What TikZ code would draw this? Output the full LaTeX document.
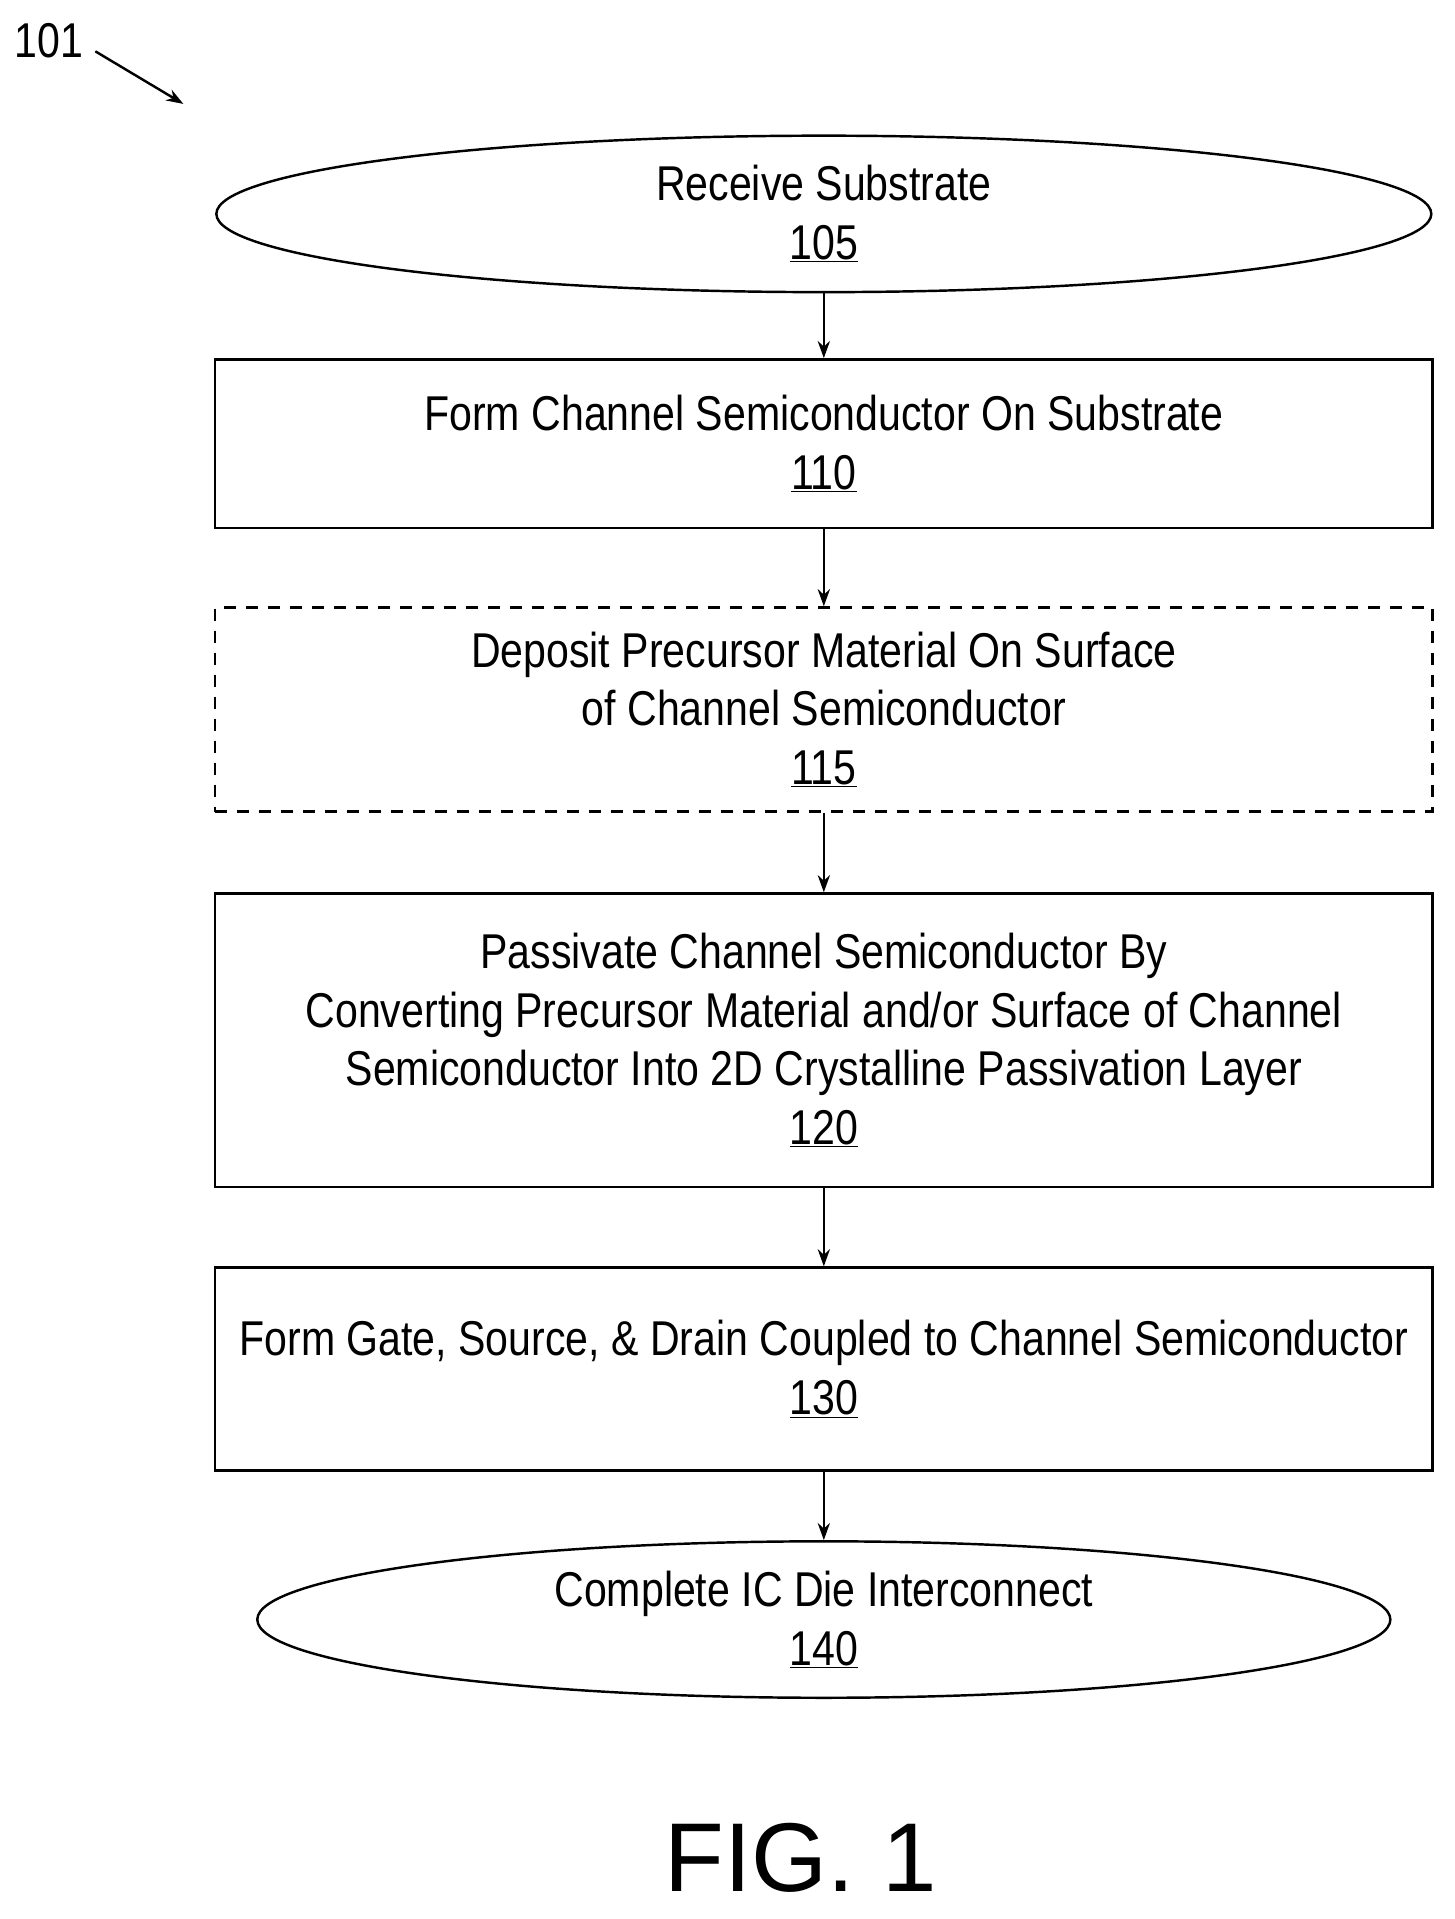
\documentclass[tikz,border=0pt]{standalone}
\usepackage{fontspec}
\setmainfont{Liberation Sans}[FakeStretch=0.84]
\newfontfamily\figfont{Liberation Sans}
\usetikzlibrary{shapes.geometric,arrows.meta}
\begin{document}
\begin{tikzpicture}[x=1pt,y=-1pt,
  every node/.style={font=\fontsize{40}{48}\selectfont, align=center, inner sep=0pt},
  box/.style={draw, line width=2pt, minimum width=996pt},
  oval/.style={draw, ellipse, line width=2pt},
  arr/.style={-{Stealth[length=14pt,width=10pt]}, line width=2pt}]
\useasboundingbox (0,0) rectangle (1190,1570);
\node[anchor=center] (l101) at (40,33) {101};
\coordinate (a1) at (78,42);
\coordinate (a2) at (150,85);
\draw[arr] (a1) -- (a2);
\node[oval, minimum width=994pt, minimum height=128pt] (n105) at (674,175) {Receive Substrate\\\underline{105}};
\node[box, minimum height=138pt] (n110) at (674,363) {Form Channel Semiconductor On Substrate\\\underline{110}};
\node[box, dashed, dash pattern=on 10pt off 8pt, minimum height=167pt] (n115) at (674,580.5) {Deposit Precursor Material On Surface\\of Channel Semiconductor\\\underline{115}};
\node[box, minimum height=240pt] (n120) at (674,851) {Passivate Channel Semiconductor By\\Converting Precursor Material and/or Surface of Channel\\Semiconductor Into 2D Crystalline Passivation Layer\\\underline{120}};
\node[box, minimum height=166pt] (n130) at (674,1120) {Form Gate, Source, \& Drain Coupled to Channel Semiconductor\\\underline{130}};
\node[oval, minimum width=927pt, minimum height=128pt] (n140) at (674,1325) {Complete IC Die Interconnect\\\underline{140}};
\draw[arr] (n105.south) -- (n110.north);
\draw[arr] (n110) -- (n115);
\draw[arr] (n115) -- (n120);
\draw[arr] (n120) -- (n130);
\draw[arr] (n130.south) -- (n140.north);
\node (fig) at (655,1520) {\figfont\fontsize{80}{80}\selectfont FIG. 1};
\end{tikzpicture}
\end{document}
